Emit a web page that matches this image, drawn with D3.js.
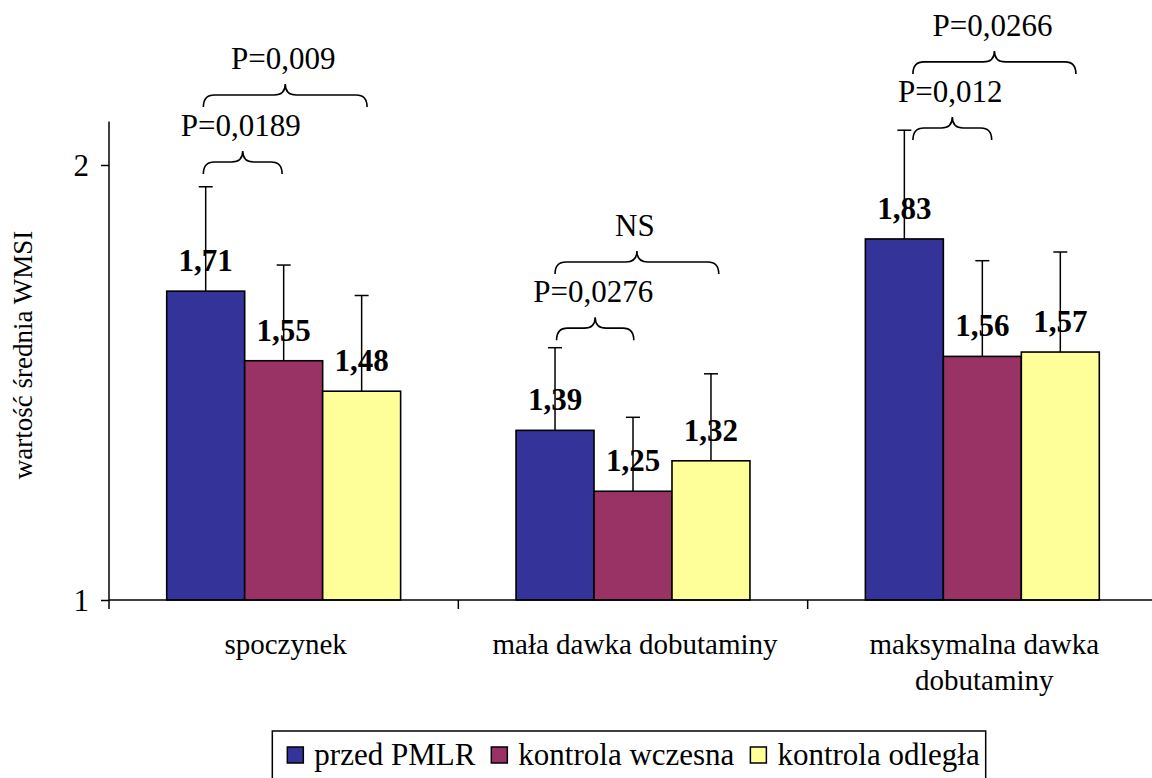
<!DOCTYPE html>
<html lang="pl">
<head>
<meta charset="utf-8">
<script src="https://cdn.jsdelivr.net/npm/d3@7"></script>
<style>
  html, body { margin: 0; padding: 0; background: #fff; }
  svg { display: block; }
</style>
</head>
<body>
<svg id="chart" width="1152" height="778"></svg>
<script>
// Mean WMSI per stage, with standard deviation shown as upward error bars
const categories = ["spoczynek", "mała dawka dobutaminy", "maksymalna dawka dobutaminy"];
const categoryLines = [["spoczynek"], ["mała dawka dobutaminy"], ["maksymalna dawka", "dobutaminy"]];
const seriesNames = ["przed PMLR", "kontrola wczesna", "kontrola odległa"];
const seriesColors = ["#333399", "#993366", "#FFFF99"];

const przedPMLR = [1.71, 1.39, 1.83];
const kontrolaWczesna = [1.55, 1.25, 1.56];
const kontrolaOdlegla = [1.48, 1.32, 1.57];

const sdPrzedPMLR = [0.24, 0.19, 0.25];
const sdKontrolaWczesna = [0.22, 0.17, 0.22];
const sdKontrolaOdlegla = [0.22, 0.20, 0.23];

const yTicks = [1, 2];

// Significance brackets: category, span in bar-slot units (0 = first bar centre), height in WMSI units
const bracketCategory = [0, 0, 1, 1, 2, 2];
const bracketFrom = [-0.03, -0.03, 0.02, 0.0, 0.11, 0.11];
const bracketTo = [0.98, 2.07, 1.01, 2.1, 1.12, 2.2];
const bracketLevel = [2.007, 2.161, 1.625, 1.777, 2.085, 2.237];
const bracketLabel = ["P=0,0189", "P=0,009", "P=0,0276", "NS", "P=0,012", "P=0,0266"];

const values = [przedPMLR, kontrolaWczesna, kontrolaOdlegla];
const errors = [sdPrzedPMLR, sdKontrolaWczesna, sdKontrolaOdlegla];

const SERIF = "'Liberation Serif', 'Times New Roman', Times, serif";

const svg = d3.select("#chart");
const plotLeft = 109, plotRight = 1157, plotTop = 121.5, plotBottom = 600;

const x0 = d3.scaleBand().domain(categories).range([plotLeft, plotRight]).paddingInner(0).paddingOuter(0);
const x1 = d3.scaleBand().domain(seriesNames).range([0, x0.bandwidth()]).paddingInner(0).paddingOuter(0.74);
const y = d3.scaleLinear().domain([1, 2.1]).range([plotBottom, plotTop]);

const fmt = v => d3.format(".2f")(v).replace(".", ",");

// bar records built from the series arrays
const bars = [];
categories.forEach((c, ci) => {
  seriesNames.forEach((s, si) => {
    bars.push({ c, ci, s, si, v: values[si][ci], e: errors[si][ci] });
  });
});
// centre of a (possibly fractional) bar slot inside a category
const slotX = (ci, slot) => x0(categories[ci]) + x1(seriesNames[0]) + (slot + 0.5) * x1.step();
const barCenter = (ci, si) => slotX(ci, si);

// bars
svg.append("g").selectAll("rect").data(bars).join("rect")
  .attr("x", d => x0(d.c) + x1(d.s))
  .attr("y", d => y(d.v))
  .attr("width", x1.bandwidth())
  .attr("height", d => y(1) - y(d.v))
  .attr("fill", d => seriesColors[d.si])
  .attr("stroke", "#000")
  .attr("stroke-width", 1.6);

// value labels
svg.append("g").selectAll("text").data(bars).join("text")
  .attr("x", d => barCenter(d.ci, d.si))
  .attr("y", d => y(d.v) - 20)
  .attr("text-anchor", "middle")
  .style("font-family", SERIF)
  .style("font-size", "31px")
  .style("font-weight", "bold")
  .text(d => fmt(d.v));

// error bars (upper half only)
const eg = svg.append("g").attr("stroke", "#000").attr("stroke-width", 1.5);
eg.selectAll("line.stem").data(bars).join("line").attr("class", "stem")
  .attr("x1", d => barCenter(d.ci, d.si)).attr("x2", d => barCenter(d.ci, d.si))
  .attr("y1", d => y(d.v)).attr("y2", d => y(d.v + d.e));
eg.selectAll("line.cap").data(bars).join("line").attr("class", "cap")
  .attr("x1", d => barCenter(d.ci, d.si) - 7).attr("x2", d => barCenter(d.ci, d.si) + 7)
  .attr("y1", d => y(d.v + d.e)).attr("y2", d => y(d.v + d.e));

// axes
const yAxis = d3.axisLeft(y).tickValues(yTicks).tickSize(8).tickPadding(12).tickFormat(d3.format("d"));
const yg = svg.append("g").attr("transform", `translate(${plotLeft},0)`).call(yAxis)
  .attr("font-family", null).attr("font-size", null);
yg.select(".domain").attr("d", `M0,${plotTop}V${plotBottom}`).attr("stroke-width", 1.5);
yg.selectAll(".tick line").attr("stroke-width", 1.5);
yg.selectAll(".tick text")
  .style("font-family", SERIF).style("font-size", "31px").attr("dy", "0.34em");

const xAxis = d3.axisBottom(x0).tickSize(0).tickFormat("");
const xg = svg.append("g").attr("transform", `translate(0,${plotBottom})`).call(xAxis);
xg.select(".domain").attr("d", `M${plotLeft},0H${plotRight}`).attr("stroke-width", 1.5);
xg.selectAll(".tick").remove();
// boundary ticks between categories
const boundaries = categories.map(c => x0(c)).concat([plotRight]);
xg.selectAll("line.bound").data(boundaries).join("line").attr("class", "bound")
  .attr("x1", d => d).attr("x2", d => d).attr("y1", 0).attr("y2", 9)
  .attr("stroke", "#000").attr("stroke-width", 1.5);

// category labels
const cl = svg.append("g").selectAll("text").data(categories).join("text")
  .attr("x", d => x0(d) + x0.bandwidth() / 2 + 2)
  .attr("y", 654)
  .attr("text-anchor", "middle")
  .style("font-family", SERIF)
  .style("font-size", "29px");
cl.selectAll("tspan").data((d, i) => categoryLines[i]).join("tspan")
  .attr("x", function () { return d3.select(this.parentNode).attr("x"); })
  .attr("dy", (d, i) => i === 0 ? 0 : 36)
  .text(d => d);

// y-axis title
svg.append("text")
  .attr("transform", `translate(32,355) rotate(-90)`)
  .attr("text-anchor", "middle")
  .style("font-family", SERIF)
  .style("font-size", "27px")
  .text("wartość średnia WMSI");

// significance brackets
const bg = svg.append("g");
bracketLabel.forEach((lab, i) => {
  const ci = bracketCategory[i];
  const xa = slotX(ci, bracketFrom[i]);
  const xb = slotX(ci, bracketTo[i]);
  const ly = y(bracketLevel[i]);
  const xm = (xa + xb) / 2;
  const r = 11;
  const p = d3.path();
  p.moveTo(xa, ly + 12);
  p.quadraticCurveTo(xa, ly, xa + r, ly);
  p.lineTo(xm - r, ly);
  p.quadraticCurveTo(xm, ly, xm, ly - 11);
  p.quadraticCurveTo(xm, ly, xm + r, ly);
  p.lineTo(xb - r, ly);
  p.quadraticCurveTo(xb, ly, xb, ly + 12);
  bg.append("path").attr("d", p.toString())
    .attr("fill", "none").attr("stroke", "#000").attr("stroke-width", 1.6);
  bg.append("text")
    .attr("x", xm - 2)
    .attr("y", ly - 26)
    .attr("text-anchor", "middle")
    .style("font-family", SERIF)
    .style("font-size", "31px")
    .text(lab);
});

// legend
const lg = svg.append("g");
const box = lg.append("rect").attr("fill", "#fff").attr("stroke", "#000").attr("stroke-width", 1.5);
let cx = 0;
const items = [];
seriesNames.forEach((s, i) => {
  const g = lg.append("g");
  g.append("rect").attr("x", cx).attr("y", 747).attr("width", 16).attr("height", 16)
    .attr("fill", seriesColors[i]).attr("stroke", "#000").attr("stroke-width", 1.5);
  const t = g.append("text").attr("x", cx + 27).attr("y", 765)
    .style("font-family", SERIF).style("font-size", "31px").text(s);
  const w = t.node().getComputedTextLength();
  cx += 27 + w + 16;
  items.push(g);
});
const totalW = cx - 16;
const legendCenter = 629;
const padL = 15, padR = 6;
const startX = legendCenter - totalW / 2 + (padL - padR) / 2;
items.forEach(g => g.attr("transform", `translate(${startX},0)`));
box.attr("x", startX - padL).attr("y", 731).attr("width", totalW + padL + padR).attr("height", 60);
</script>
</body>
</html>
